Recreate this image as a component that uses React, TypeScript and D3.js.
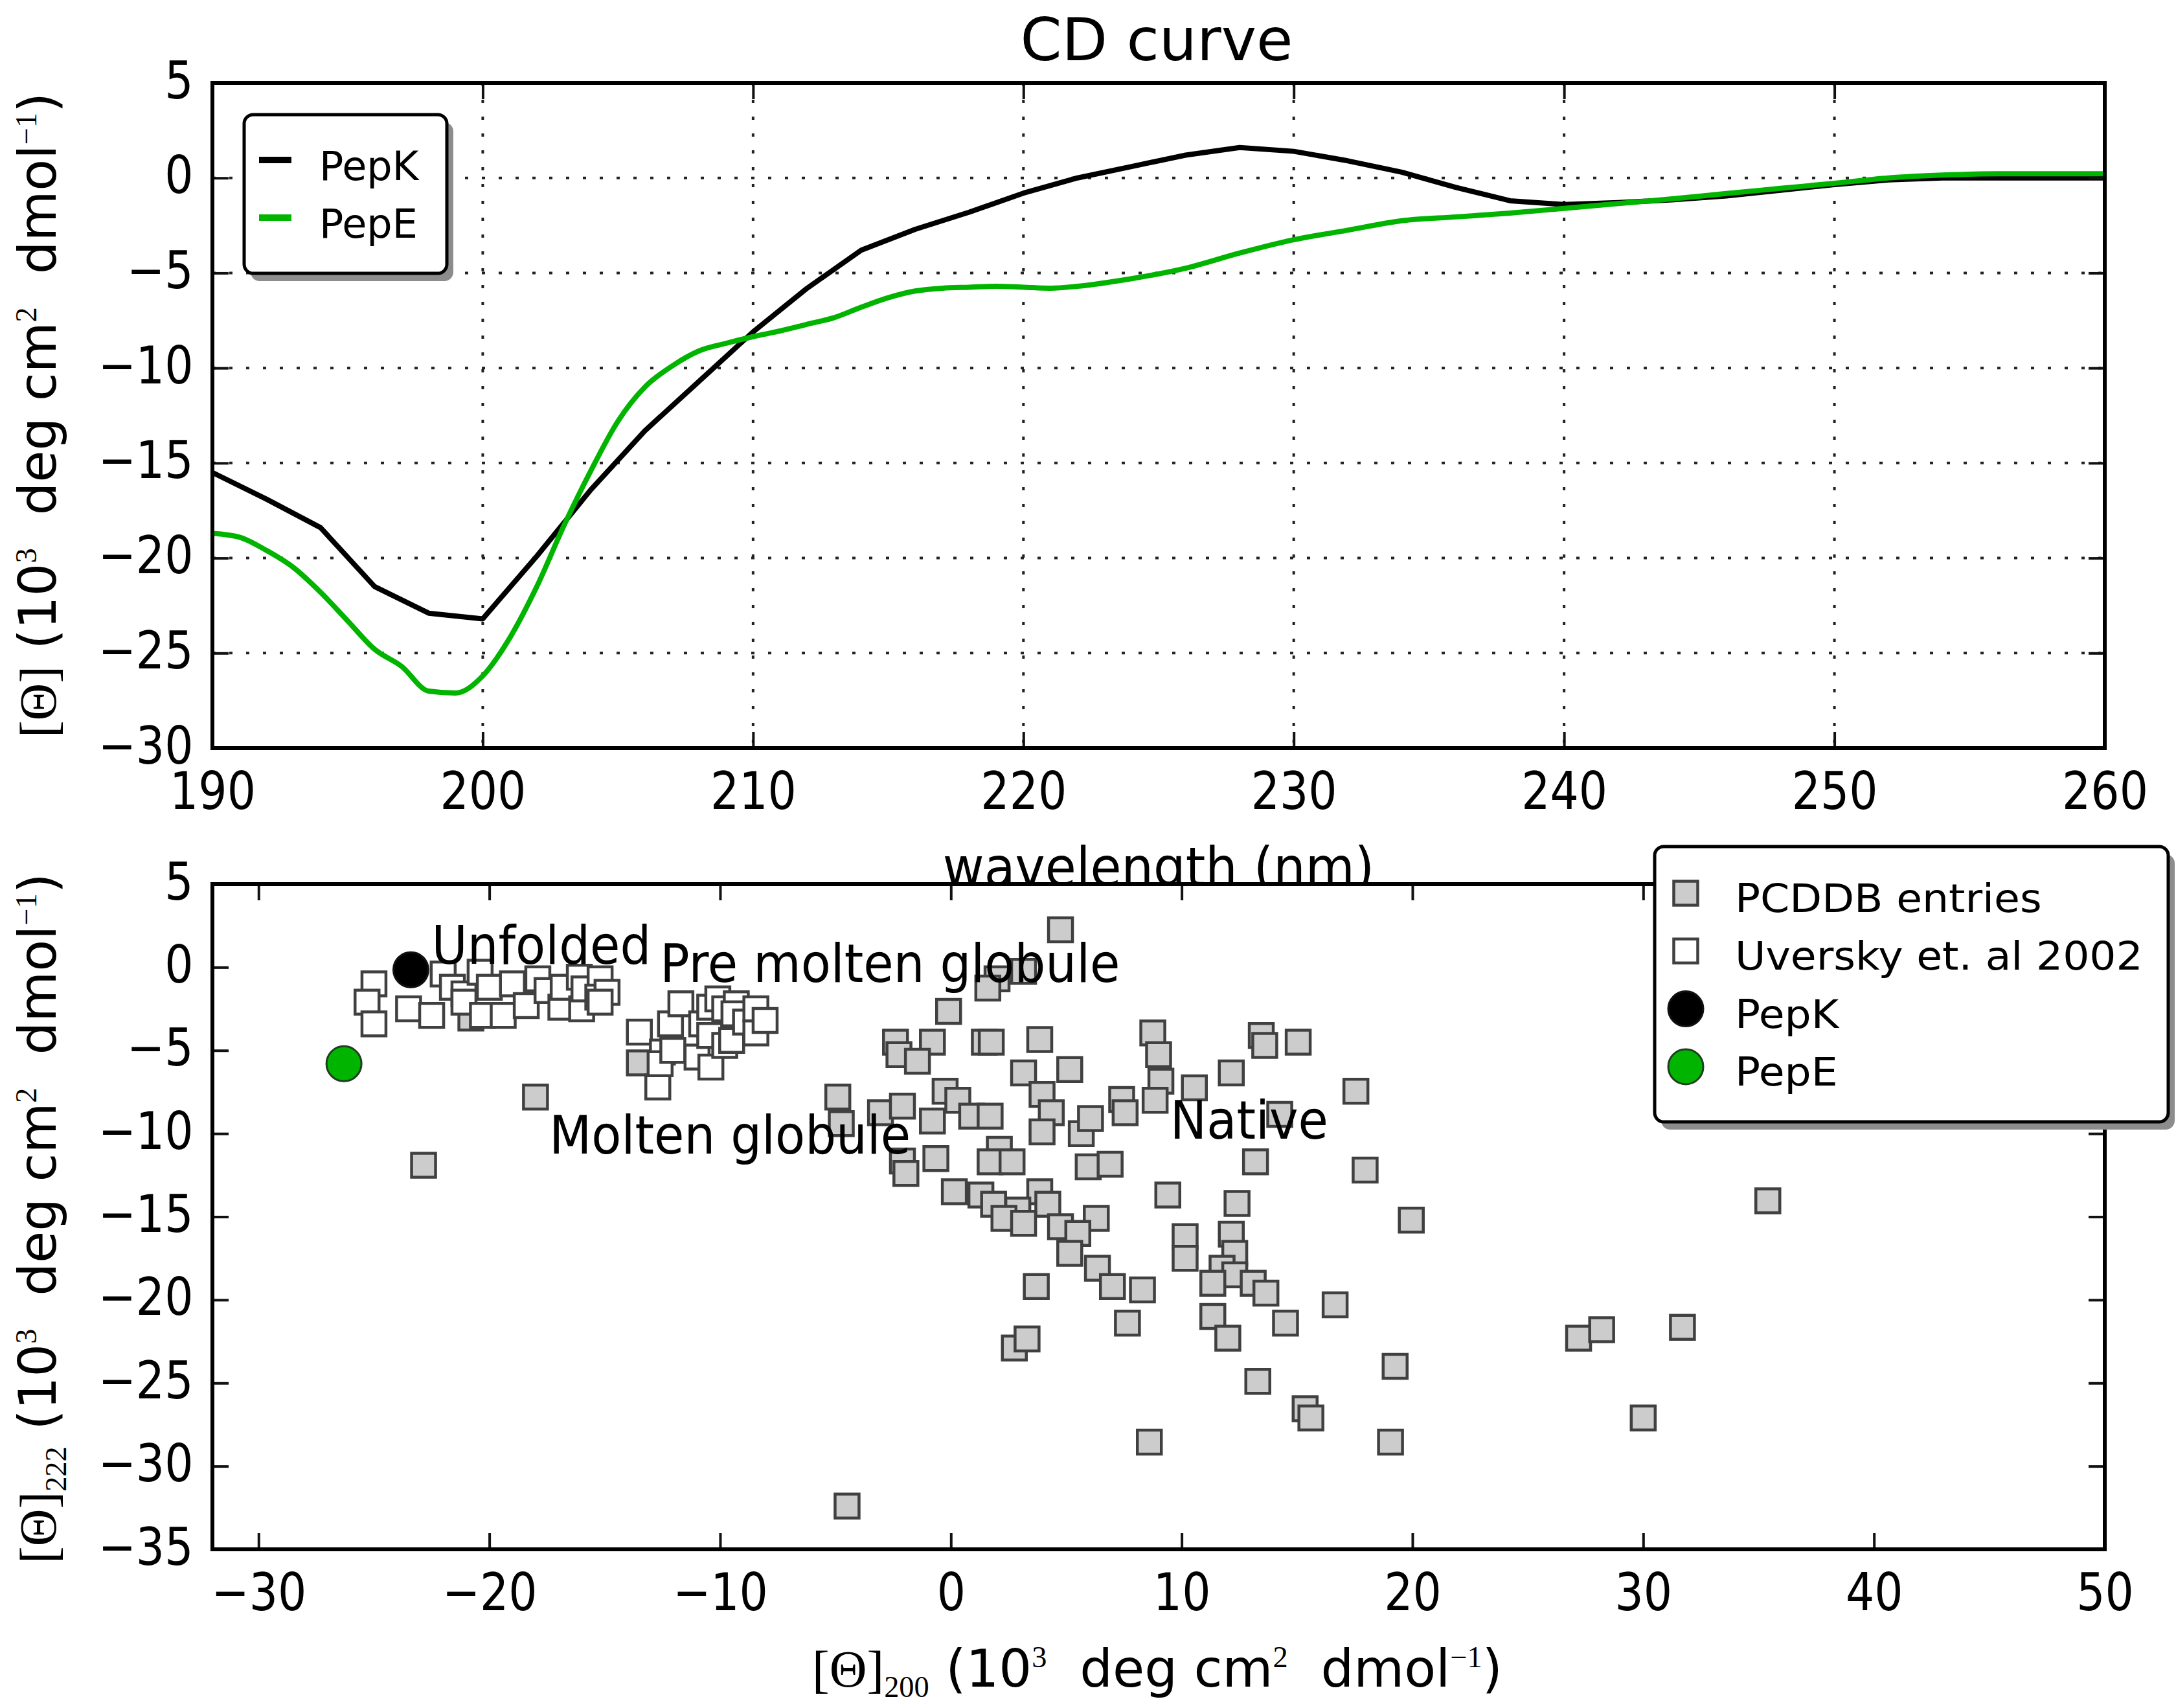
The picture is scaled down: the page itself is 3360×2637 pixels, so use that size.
import { useEffect, useRef } from 'react';
import * as d3 from 'd3';

const W = 3360;
const H = 2637;
const SANS = "'DejaVu Sans', Verdana, sans-serif";
const SERIF = "'Liberation Serif', 'DejaVu Serif', serif";
const GREEN = '#00b400';

// CD spectra (10^3 deg cm2 dmol-1)
const pepKWavelength = [190, 192, 194, 196, 198, 200, 202, 204, 206, 208, 210, 212, 214, 216, 218, 220, 222, 224, 226, 228, 230, 232, 234, 236, 238, 240, 242, 244, 246, 248, 250, 252, 254, 256, 258, 260];
const pepKValue = [-15.5, -16.9, -18.4, -21.5, -22.9, -23.2, -19.9, -16.4, -13.3, -10.7, -8.1, -5.8, -3.8, -2.7, -1.8, -0.8, 0.0, 0.6, 1.2, 1.6, 1.4, 0.9, 0.3, -0.5, -1.2, -1.4, -1.3, -1.15, -0.95, -0.65, -0.35, -0.1, 0.0, 0.0, 0.0, 0.0];

const pepEWavelength = [190, 191, 192, 193, 194, 195, 196, 197, 198, 199, 200, 201, 202, 203, 204, 205, 206, 207, 208, 209, 210, 211, 212, 213, 214, 215, 216, 217, 218, 219, 220, 221, 222, 224, 226, 228, 230, 232, 234, 236, 238, 240, 242, 244, 246, 248, 250, 252, 254, 256, 258, 260];
const pepEValue = [-18.7, -18.9, -19.6, -20.5, -21.8, -23.3, -24.8, -25.7, -27.0, -27.1, -26.2, -24.2, -21.5, -18.3, -15.4, -12.8, -11.0, -9.9, -9.1, -8.7, -8.35, -8.05, -7.7, -7.35, -6.8, -6.3, -5.95, -5.8, -5.75, -5.7, -5.75, -5.8, -5.7, -5.3, -4.75, -3.95, -3.25, -2.75, -2.25, -2.05, -1.85, -1.6, -1.35, -1.1, -0.82, -0.55, -0.28, 0.0, 0.15, 0.22, 0.22, 0.22];

const cdXTicks = [190, 200, 210, 220, 230, 240, 250, 260];
const cdYTicks = [5, 0, -5, -10, -15, -20, -25, -30];

// [theta]200 vs [theta]222 map
const pcddbPoints: [number, number][] = [
  [4.75, 2.25], [2.0, -0.7], [1.6, -1.25], [3.15, -0.25], [-0.1, -2.65],
  [-2.4, -4.5], [-0.8, -4.5], [1.45, -4.5], [1.75, -4.5], [3.85, -4.35],
  [-2.25, -5.25], [-1.45, -5.65], [3.15, -6.35], [5.15, -6.15], [3.95, -7.65],
  [4.35, -8.75], [3.95, -9.9], [5.65, -10.0], [6.05, -9.1], [7.4, -7.95],
  [7.55, -8.75], [-4.9, -7.8], [-4.75, -9.4], [-3.05, -8.75], [-2.1, -8.35],
  [-0.8, -9.25], [-0.25, -7.45], [0.3, -8.0], [0.9, -8.95], [1.7, -8.95],
  [2.1, -10.95], [1.7, -11.7], [2.65, -11.7], [-0.65, -11.5], [-2.1, -11.65],
  [-1.95, -12.4], [5.95, -12.0], [6.9, -11.85], [0.15, -13.5], [1.3, -13.7],
  [1.85, -14.25], [3.85, -13.5], [4.2, -14.25], [2.9, -14.6], [2.3, -15.1],
  [3.15, -15.4], [6.3, -15.1], [4.75, -15.6], [5.5, -16.0], [5.15, -17.2],
  [6.35, -18.1], [7.0, -19.2], [8.3, -19.4], [3.7, -19.2], [10.15, -16.2],
  [12.15, -16.05], [10.15, -17.5], [12.3, -17.2], [11.75, -18.1], [12.3, -18.5],
  [11.35, -19.0], [13.1, -19.0], [13.65, -19.6], [16.65, -20.3], [19.95, -15.2],
  [7.65, -21.4], [11.35, -21.0], [12.0, -22.3], [14.5, -21.4], [2.75, -22.9],
  [3.3, -22.35], [19.25, -24.0], [13.3, -24.9], [15.35, -26.55], [15.6, -27.1],
  [8.6, -28.55], [19.05, -28.55], [-4.5, -32.4], [8.75, -3.95], [9.0, -5.25],
  [9.1, -6.85], [8.85, -8.0], [10.55, -7.25], [12.15, -6.35], [13.45, -4.1],
  [13.6, -4.7], [15.05, -4.5], [17.55, -7.45], [14.25, -8.85], [13.2, -11.7],
  [17.95, -12.2], [9.4, -13.7], [12.4, -14.2], [35.4, -14.05], [27.2, -22.3],
  [28.2, -21.8], [31.7, -21.65], [30.0, -27.1], [-18.0, -7.8], [-22.85, -11.9],
  [-13.5, -5.75], [-20.8, -3.05],
];

const uverskyPoints: [number, number][] = [
  [-25.0, -1.0], [-25.3, -2.1], [-25.0, -3.4], [-23.5, -2.5], [-22.5, -2.9],
  [-22.0, -0.4], [-21.6, -1.2], [-21.1, -1.6], [-21.1, -2.1], [-20.3, -2.9],
  [-20.4, -0.3], [-20.0, -1.2], [-19.4, -2.9], [-19.0, -1.0], [-18.4, -2.3],
  [-17.9, -0.7], [-17.5, -1.4], [-16.9, -2.4], [-16.8, -1.2], [-16.1, -0.6],
  [-16.0, -2.5], [-15.9, -1.3], [-15.2, -0.7], [-15.3, -1.8], [-14.9, -1.5],
  [-15.2, -2.1],
  [-13.5, -3.9], [-12.7, -7.2], [-12.5, -5.1], [-12.6, -5.8], [-12.15, -3.4],
  [-12.05, -5.0], [-11.7, -2.2], [-11.0, -5.4], [-10.8, -3.4], [-10.45, -2.4],
  [-10.45, -4.1], [-10.4, -6.0], [-10.1, -1.9], [-9.8, -2.5], [-9.8, -4.7],
  [-9.5, -4.4], [-9.3, -2.2], [-9.4, -2.8], [-8.9, -3.3], [-8.45, -2.5],
  [-8.45, -3.95], [-8.05, -3.2],
];

const pepKPoint: [number, number] = [-23.4, -0.15];
const pepEPoint: [number, number] = [-26.3, -5.8];

const regionLabels = [
  { text: 'Unfolded', x: -22.5, y: 0.2 },
  { text: 'Pre molten globule', x: -12.6, y: -0.9 },
  { text: 'Molten globule', x: -17.4, y: -11.2 },
  { text: 'Native', x: 9.5, y: -10.3 },
];

const mapXTicks = [-30, -20, -10, 0, 10, 20, 30, 40, 50];
const mapYTicks = [5, 0, -5, -10, -15, -20, -25, -30, -35];

const TICK_SX = 0.87;
const TEXT_SX = 0.92;

type Part = { t: string; serif?: boolean; small?: boolean; shift?: number };

const unitParts: Part[] = [
  { t: ' (10' },
  { t: '3', serif: true, small: true, shift: -30 },
  { t: '  deg cm' },
  { t: '2', serif: true, small: true, shift: -30 },
  { t: '  dmol' },
  { t: '\u22121', serif: true, small: true, shift: -30 },
  { t: ')' },
];

function plainText(parent: any, str: string, x: number, y: number, size: number, sx: number, anchor = 'start') {
  parent.append('text')
    .attr('transform', `translate(${x},${y}) scale(${sx},1)`)
    .attr('text-anchor', anchor)
    .attr('font-family', SANS)
    .attr('font-size', size)
    .attr('fill', '#000')
    .text(str);
}

function richText(parent: any, parts: Part[], x: number, y: number, rotate: number, size: number) {
  const t = parent.append('text')
    .attr('transform', `translate(${x},${y}) rotate(${rotate})`)
    .attr('text-anchor', 'middle')
    .attr('font-size', size)
    .attr('font-family', SANS)
    .attr('fill', '#000')
    .style('white-space', 'pre');
  let cur = 0;
  parts.forEach((p) => {
    const s = p.shift ?? 0;
    t.append('tspan')
      .attr('dy', s - cur)
      .attr('font-family', p.serif ? SERIF : SANS)
      .attr('font-size', p.small ? size * 0.58 : size)
      .text(p.t);
    cur = s;
  });
}

function styleAxis(g: any, side: string) {
  g.select('.domain').remove();
  g.selectAll('.tick line').attr('stroke', '#111').attr('stroke-width', 4);
  const txt = g.selectAll('.tick text')
    .attr('font-family', SANS)
    .attr('font-size', 80)
    .attr('fill', '#000')
    .attr('transform', `scale(${TICK_SX},1)`);
  if (side === 'bottom') txt.attr('y', 94).attr('dy', null);
  if (side === 'left') txt.attr('x', -34).attr('dy', 23);
}

function addAxes(svg: any, x: any, y: any, box: any, xTicks: number[], yTicks: number[]) {
  const fmt = d3.format('d');
  const none = () => '';
  const len = -25;
  styleAxis(svg.append('g').attr('transform', `translate(0,${box.bottom})`)
    .call(d3.axisBottom(x).tickValues(xTicks).tickSizeInner(len).tickSizeOuter(0).tickFormat(fmt as any)), 'bottom');
  styleAxis(svg.append('g').attr('transform', `translate(0,${box.top})`)
    .call(d3.axisTop(x).tickValues(xTicks).tickSizeInner(len).tickSizeOuter(0).tickFormat(none)), 'top');
  styleAxis(svg.append('g').attr('transform', `translate(${box.left},0)`)
    .call(d3.axisLeft(y).tickValues(yTicks).tickSizeInner(len).tickSizeOuter(0).tickFormat(fmt as any)), 'left');
  styleAxis(svg.append('g').attr('transform', `translate(${box.right},0)`)
    .call(d3.axisRight(y).tickValues(yTicks).tickSizeInner(len).tickSizeOuter(0).tickFormat(none)), 'right');
  svg.append('rect')
    .attr('x', box.left).attr('y', box.top)
    .attr('width', box.right - box.left).attr('height', box.bottom - box.top)
    .attr('fill', 'none').attr('stroke', '#000').attr('stroke-width', 6);
}

function legendBox(svg: any, x: number, y: number, w: number, h: number) {
  svg.append('rect').attr('x', x + 10).attr('y', y + 12).attr('width', w).attr('height', h)
    .attr('rx', 14).attr('fill', '#8c8c8c');
  svg.append('rect').attr('x', x).attr('y', y).attr('width', w).attr('height', h)
    .attr('rx', 14).attr('fill', '#fff').attr('stroke', '#000').attr('stroke-width', 5);
}

export default function App() {
  const svgRef = useRef<SVGSVGElement>(null);

  useEffect(() => {
    if (!svgRef.current) return;
    const svg = d3.select(svgRef.current);
    svg.selectAll('*').remove();

    svg.append('rect').attr('width', W).attr('height', H).attr('fill', '#fff');

    // ---------- top panel: CD curve ----------
    const T = { left: 328, right: 3250, top: 128, bottom: 1155 };
    const xCD = d3.scaleLinear().domain([190, 260]).range([T.left, T.right]);
    const yCD = d3.scaleLinear().domain([-30, 5]).range([T.bottom, T.top]);

    plainText(svg, 'CD curve', 1786, 93, 90, 1.02, 'middle');

    const grid = svg.append('g').attr('stroke', '#222').attr('stroke-width', 4).attr('stroke-dasharray', '5,21');
    grid.selectAll('line.v').data(cdXTicks.slice(1, -1)).join('line').attr('class', 'v')
      .attr('x1', (d) => xCD(d)).attr('x2', (d) => xCD(d)).attr('y1', T.top).attr('y2', T.bottom);
    grid.selectAll('line.h').data(cdYTicks.slice(1, -1)).join('line').attr('class', 'h')
      .attr('y1', (d) => yCD(d)).attr('y2', (d) => yCD(d)).attr('x1', T.left).attr('x2', T.right);

    const lineK = d3.line<number>().x((_, i) => xCD(pepKWavelength[i])).y((d) => yCD(d));
    const lineE = d3.line<number>().x((_, i) => xCD(pepEWavelength[i])).y((d) => yCD(d)).curve(d3.curveMonotoneX);
    svg.append('path').attr('d', lineK(pepKValue)).attr('fill', 'none').attr('stroke', '#000')
      .attr('stroke-width', 8).attr('stroke-linejoin', 'round');
    svg.append('path').attr('d', lineE(pepEValue)).attr('fill', 'none').attr('stroke', GREEN)
      .attr('stroke-width', 8).attr('stroke-linejoin', 'round');

    addAxes(svg, xCD, yCD, T, cdXTicks, cdYTicks);

    richText(svg, [{ t: '[\u0398]', serif: true }, ...unitParts], 86, 641, -90, 80);

    legendBox(svg, 377, 177, 313, 245);
    const topLegend = [
      { name: 'PepK', color: '#000' },
      { name: 'PepE', color: GREEN },
    ];
    topLegend.forEach((e, i) => {
      const cy = 247 + i * 89;
      svg.append('line').attr('x1', 400).attr('x2', 450).attr('y1', cy).attr('y2', cy)
        .attr('stroke', e.color).attr('stroke-width', 10);
      plainText(svg, e.name, 493, cy + 31, 62, 1.0);
    });

    plainText(svg, 'wavelength (nm)', (T.left + T.right) / 2, 1368, 84, 0.93, 'middle');

    // ---------- bottom panel: [theta]200 vs [theta]222 ----------
    const B = { left: 328, right: 3250, top: 1365, bottom: 2392 };
    const xMap = d3.scaleLinear().domain([-32, 50]).range([B.left, B.right]);
    const yMap = d3.scaleLinear().domain([-35, 5]).range([B.bottom, B.top]);

    svg.append('rect').attr('x', B.left).attr('y', B.top)
      .attr('width', B.right - B.left).attr('height', B.bottom - B.top).attr('fill', '#fff');

    const square = d3.symbol().type(d3.symbolSquare).size(37 * 37)();
    const circle = d3.symbol().type(d3.symbolCircle).size(Math.PI * 27 * 27)();

    svg.append('g').selectAll('path').data(pcddbPoints).join('path')
      .attr('d', square)
      .attr('transform', (d) => `translate(${xMap(d[0])},${yMap(d[1])})`)
      .attr('fill', '#cccccc').attr('stroke', '#404040').attr('stroke-width', 4.5);

    svg.append('g').selectAll('path').data(uverskyPoints).join('path')
      .attr('d', square)
      .attr('transform', (d) => `translate(${xMap(d[0])},${yMap(d[1])})`)
      .attr('fill', '#ffffff').attr('stroke', '#404040').attr('stroke-width', 4.5);

    svg.append('path').attr('d', circle)
      .attr('transform', `translate(${xMap(pepKPoint[0])},${yMap(pepKPoint[1])})`)
      .attr('fill', '#000').attr('stroke', '#111').attr('stroke-width', 3);
    svg.append('path').attr('d', circle)
      .attr('transform', `translate(${xMap(pepEPoint[0])},${yMap(pepEPoint[1])})`)
      .attr('fill', GREEN).attr('stroke', '#1f3d1f').attr('stroke-width', 3);

    regionLabels.forEach((l) => plainText(svg, l.text, xMap(l.x), yMap(l.y), 82, TEXT_SX));

    addAxes(svg, xMap, yMap, B, mapXTicks, mapYTicks);

    richText(svg, [{ t: '[\u0398]', serif: true }, { t: '222', serif: true, small: true, shift: 16 }, ...unitParts], 86, 1881, -90, 80);
    richText(svg, [{ t: '[\u0398]', serif: true }, { t: '200', serif: true, small: true, shift: 16 }, ...unitParts], 1787, 2604, 0, 80);

    legendBox(svg, 2555, 1307, 793, 425);
    const botLegend = [
      { name: 'PCDDB entries', shape: square, fill: '#cccccc', stroke: '#404040', sw: 4.5 },
      { name: 'Uversky et. al 2002', shape: square, fill: '#ffffff', stroke: '#404040', sw: 4.5 },
      { name: 'PepK', shape: circle, fill: '#000', stroke: '#111', sw: 3 },
      { name: 'PepE', shape: circle, fill: GREEN, stroke: '#1f3d1f', sw: 3 },
    ];
    botLegend.forEach((e, i) => {
      const cy = 1379 + i * 89.3;
      svg.append('path').attr('d', e.shape).attr('transform', `translate(2603,${cy})`)
        .attr('fill', e.fill).attr('stroke', e.stroke).attr('stroke-width', e.sw);
      plainText(svg, e.name, 2679, cy + 29, 60, 1.08);
    });
  }, []);

  return (
    <svg
      ref={svgRef}
      width={W}
      height={H}
      style={{ position: 'absolute', left: 0, top: 0, display: 'block' }}
    />
  );
}
